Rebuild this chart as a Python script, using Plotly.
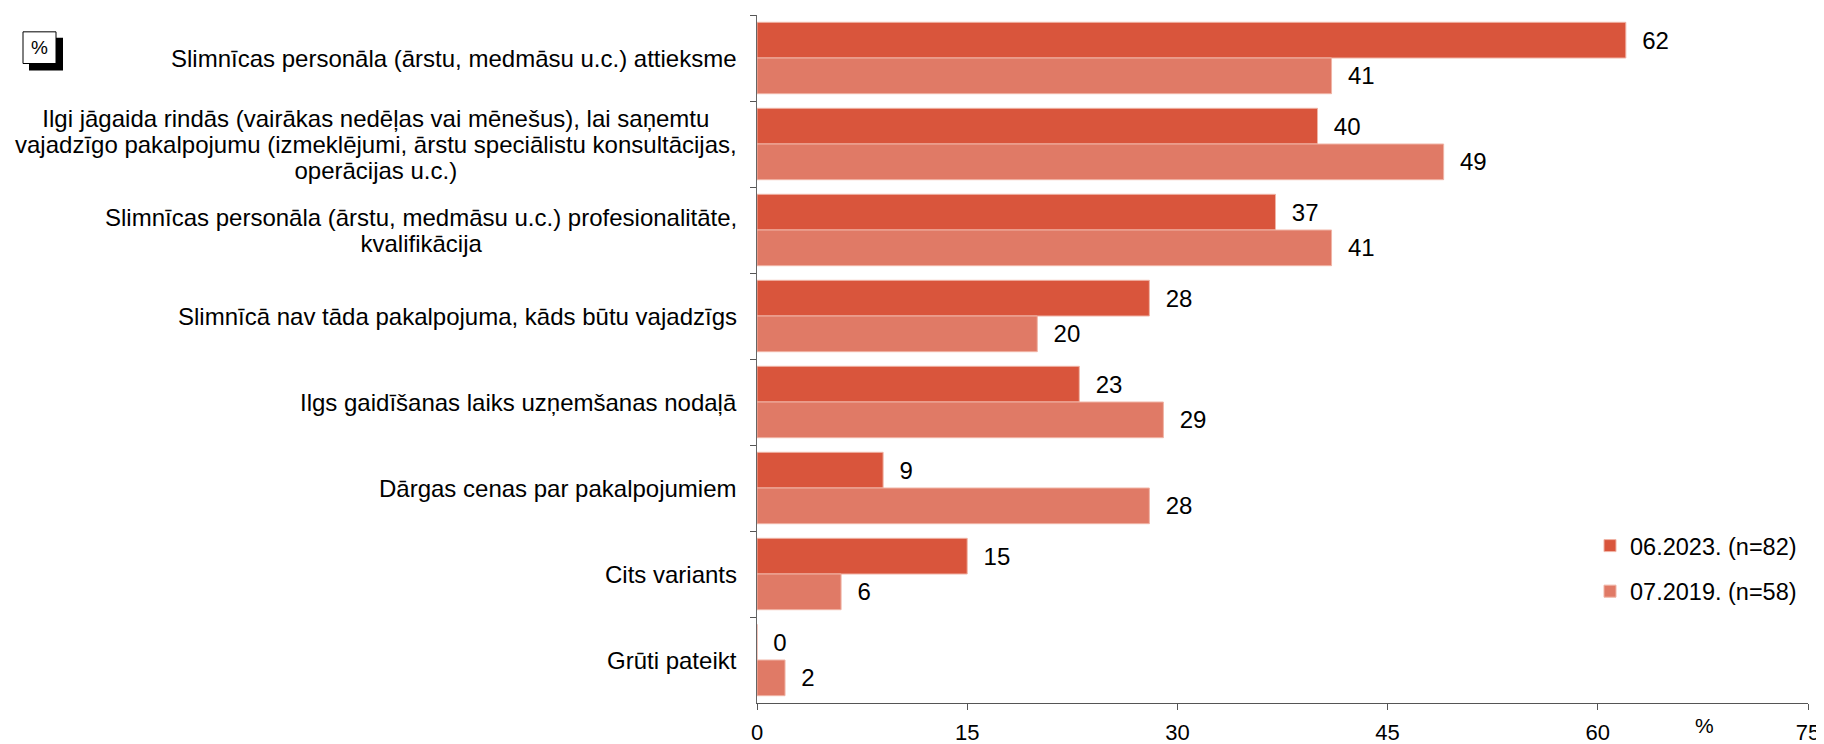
import plotly.graph_objects as go

categories = [
    "Slimnīcas personāla (ārstu, medmāsu u.c.) attieksme",
    "Ilgi jāgaida rindās (vairākas nedēļas vai mēnešus), lai saņemtu<br>vajadzīgo pakalpojumu (izmeklējumi, ārstu speciālistu konsultācijas,<br>operācijas u.c.)",
    "Slimnīcas personāla (ārstu, medmāsu u.c.) profesionalitāte,<br>kvalifikācija",
    "Slimnīcā nav tāda pakalpojuma, kāds būtu vajadzīgs",
    "Ilgs gaidīšanas laiks uzņemšanas nodaļā",
    "Dārgas cenas par pakalpojumiem",
    "Cits variants",
    "Grūti pateikt",
]
series_names = ["06.2023. (n=82)", "07.2019. (n=58)"]
values_2023 = [62, 40, 37, 28, 23, 9, 15, 0]
values_2019 = [41, 49, 41, 20, 29, 28, 6, 2]
x_ticks = [0, 15, 30, 45, 60, 75]

FONT = "Liberation Sans, Arial, sans-serif"
C1 = "#D9553C"
C2 = "#E07A66"

# page has an 8px body margin; work in page pixels and convert
OFF = 8
FIG_W, FIG_H = 1824, 744
L, R, T, B = 757, 1808, 15, 710  # plot area in page pixels
W, H = R - L, B - T


def px_x(p):
    return (p - L) / W


def px_y(p):
    return (B - p) / H


fig = go.Figure()
for name, vals, col in [(series_names[0], values_2023, C1), (series_names[1], values_2019, C2)]:
    fig.add_trace(go.Bar(
        y=categories, x=vals, name=name, orientation="h",
        marker=dict(color=col, line=dict(color="#F0B4A6", width=1)),
        text=vals, texttemplate="\u00a0\u00a0%{x}", textposition="outside",
        textfont=dict(size=24, color="black", family=FONT),
        cliponaxis=False, legendgroup=name,
    ))

annotations = []
for c in categories:
    lines = c.split("<br>")
    txt = "<br>".join('<span style="font-size:24px">%s</span>' % ln for ln in lines)
    annotations.append(dict(
        x=0, xref="paper", y=c, yref="y", text=txt, showarrow=False,
        xanchor="right", yanchor="middle", align="center", xshift=-18,
        font=dict(size=20, color="black", family=FONT),
    ))
# x-axis unit label
annotations.append(dict(
    x=px_x(1704), xref="paper", y=px_y(733), yref="paper", text="%", showarrow=False,
    xanchor="center", yanchor="middle", font=dict(size=21, color="black", family=FONT),
))
# % box label
annotations.append(dict(
    x=(px_x(23) + px_x(56)) / 2, xref="paper", y=(px_y(32) + px_y(64)) / 2, yref="paper",
    text="%", showarrow=False, xanchor="center", yanchor="middle",
    font=dict(size=19, color="black", family=FONT),
))

shapes = [
    dict(type="rect", xref="paper", yref="paper",
         x0=px_x(29), x1=px_x(63), y0=px_y(71), y1=px_y(38),
         fillcolor="black", line=dict(width=0), layer="above"),
    dict(type="rect", xref="paper", yref="paper",
         x0=px_x(23), x1=px_x(56), y0=px_y(64), y1=px_y(32),
         fillcolor="white", line=dict(color="black", width=1), layer="above"),
]

fig.update_layout(
    width=FIG_W, height=FIG_H,
    margin=dict(l=L - OFF, r=FIG_W - (R - OFF), t=T - OFF, b=FIG_H - (B - OFF)),
    paper_bgcolor="white", plot_bgcolor="white",
    barmode="group", bargap=0.17, bargroupgap=0,
    font=dict(family=FONT, color="black"),
    showlegend=True,
    legend=dict(
        x=px_x(1590), y=px_y(529), xanchor="left", yanchor="top",
        traceorder="grouped", tracegroupgap=12,
        font=dict(size=23.5, color="black", family=FONT),
        bgcolor="rgba(0,0,0,0)",
    ),
    xaxis=dict(
        range=[0, 75], tickvals=x_ticks, ticktext=[str(v) for v in x_ticks],
        showgrid=False, zeroline=False, showline=True, linecolor="#555555", linewidth=1,
        ticks="outside", ticklen=6, tickcolor="#555555",
        tickfont=dict(size=22, color="black", family=FONT), ticklabelstandoff=4,
    ),
    yaxis=dict(
        type="category", autorange="reversed", showticklabels=False,
        showgrid=False, zeroline=False, showline=True, linecolor="#666666", linewidth=1,
        ticks="outside", ticklen=6, tickcolor="#555555", tickson="boundaries",
    ),
    annotations=annotations, shapes=shapes,
)

fig.write_html("out.html")
